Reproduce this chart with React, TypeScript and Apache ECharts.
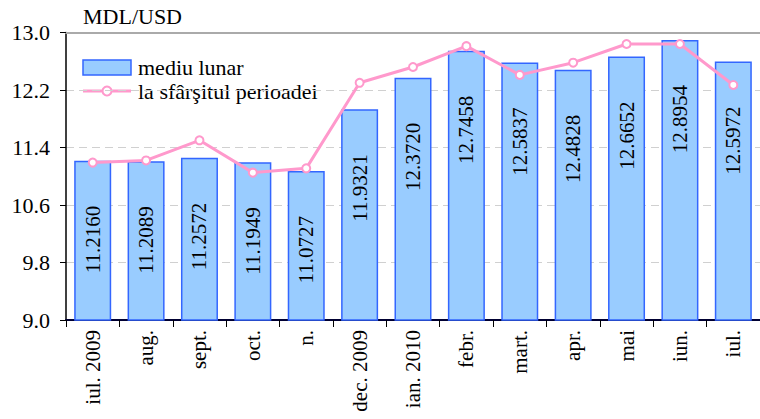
import React, { useEffect, useRef } from "react";
import * as echarts from "echarts";

const months = ["iul. 2009", "aug.", "sept.", "oct.", "n.", "dec. 2009", "ian. 2010", "febr.", "mart.", "apr.", "mai", "iun.", "iul."];
const monthlyAverage = [11.216, 11.2089, 11.2572, 11.1949, 11.0727, 11.9321, 12.372, 12.7458, 12.5837, 12.4828, 12.6652, 12.8954, 12.5972];
const endOfPeriod = [11.19, 11.22, 11.5, 11.05, 11.11, 12.3, 12.52, 12.81, 12.41, 12.58, 12.84, 12.84, 12.27];
const seriesNames = ["mediu lunar", "la sfârşitul perioadei"];
const unitLabel = "MDL/USD";

const FONT = "Liberation Serif";
const BAR_FILL = "#99CCFF";
const BAR_BORDER = "#3366FF";
const LINE_COLOR = "#FF99CC";

export default function App() {
  const ref = useRef<HTMLDivElement>(null);
  useEffect(() => {
    if (!ref.current) return;
    const chart = echarts.init(ref.current, undefined, { renderer: "svg" });
    chart.setOption({
      animation: false,
      backgroundColor: "#ffffff",
      graphic: [
        { type: "text", x: 83, y: 5, rotation: 0.0001, style: { text: unitLabel, fontFamily: FONT, fontSize: 22, fill: "#000" } },
        {
          type: "rect",
          shape: { x: 83, y: 60, width: 48, height: 15 },
          style: { fill: BAR_FILL, stroke: BAR_BORDER, lineWidth: 1.5 },
        },
        {
          type: "text",
          x: 138,
          y: 56,
          rotation: 0.0001,
          style: { text: seriesNames[0], fontFamily: FONT, fontSize: 22, fill: "#000" },
        },
        {
          type: "line",
          shape: { x1: 83, y1: 91, x2: 131, y2: 91 },
          style: { stroke: LINE_COLOR, lineWidth: 3 },
        },
        {
          type: "circle",
          shape: { cx: 107, cy: 91, r: 4.5 },
          style: { fill: "#ffffff", stroke: LINE_COLOR, lineWidth: 2 },
        },
        {
          type: "text",
          x: 138,
          y: 80,
          rotation: 0.0001,
          style: { text: seriesNames[1], fontFamily: FONT, fontSize: 22, fill: "#000" },
        },
      ],
      grid: { left: 66, right: -6, top: 32.5, bottom: 99 },
      xAxis: [
        {
          type: "category",
          data: months,
          position: "bottom",
          axisLine: { lineStyle: { color: "#000033", width: 2 } },
          axisTick: { show: true, length: 7, lineStyle: { color: "#000" } },
          axisLabel: { rotate: 90, fontFamily: FONT, fontSize: 21, color: "#000", margin: 10 },
        },
        {
          type: "category",
          data: months,
          position: "top",
          axisLine: { lineStyle: { color: "#aaaaaa", width: 2 } },
          axisTick: { show: false },
          axisLabel: { show: false },
        },
      ],
      yAxis: {
        type: "value",
        min: 9,
        max: 13,
        interval: 0.8,
        axisLine: { show: true, lineStyle: { color: "#000", width: 1.5 } },
        axisTick: { show: true, length: 6, lineStyle: { color: "#000" } },
        axisLabel: {
          fontFamily: FONT,
          fontSize: 22,
          color: "#000",
          margin: 16,
          formatter: (v: number) => v.toFixed(1),
        },
        splitLine: { show: true, lineStyle: { color: "#d0d0d0", type: [8, 5], width: 1 } },
      },
      series: [
        {
          name: seriesNames[0],
          type: "bar",
          data: monthlyAverage,
          barWidth: 37,
          itemStyle: { color: BAR_FILL, borderColor: BAR_BORDER, borderWidth: 1.5 },
          label: {
            show: true,
            position: "insideTop",
            distance: 45,
            rotate: 90,
            align: "right",
            verticalAlign: "middle",
            fontFamily: FONT,
            fontSize: 21,
            color: "#000",
            formatter: (p: any) => Number(p.value).toFixed(4),
          },
          z: 2,
        },
        {
          name: seriesNames[1],
          type: "line",
          data: endOfPeriod,
          symbol: "circle",
          symbolSize: 8,
          lineStyle: { color: LINE_COLOR, width: 3 },
          itemStyle: { color: "#ffffff", borderColor: LINE_COLOR, borderWidth: 2 },
          z: 3,
        },
      ],
    });
    return () => chart.dispose();
  }, []);
  return <div ref={ref} style={{ position: "fixed", left: 0, top: 0, width: 760, height: 419 }} />;
}
